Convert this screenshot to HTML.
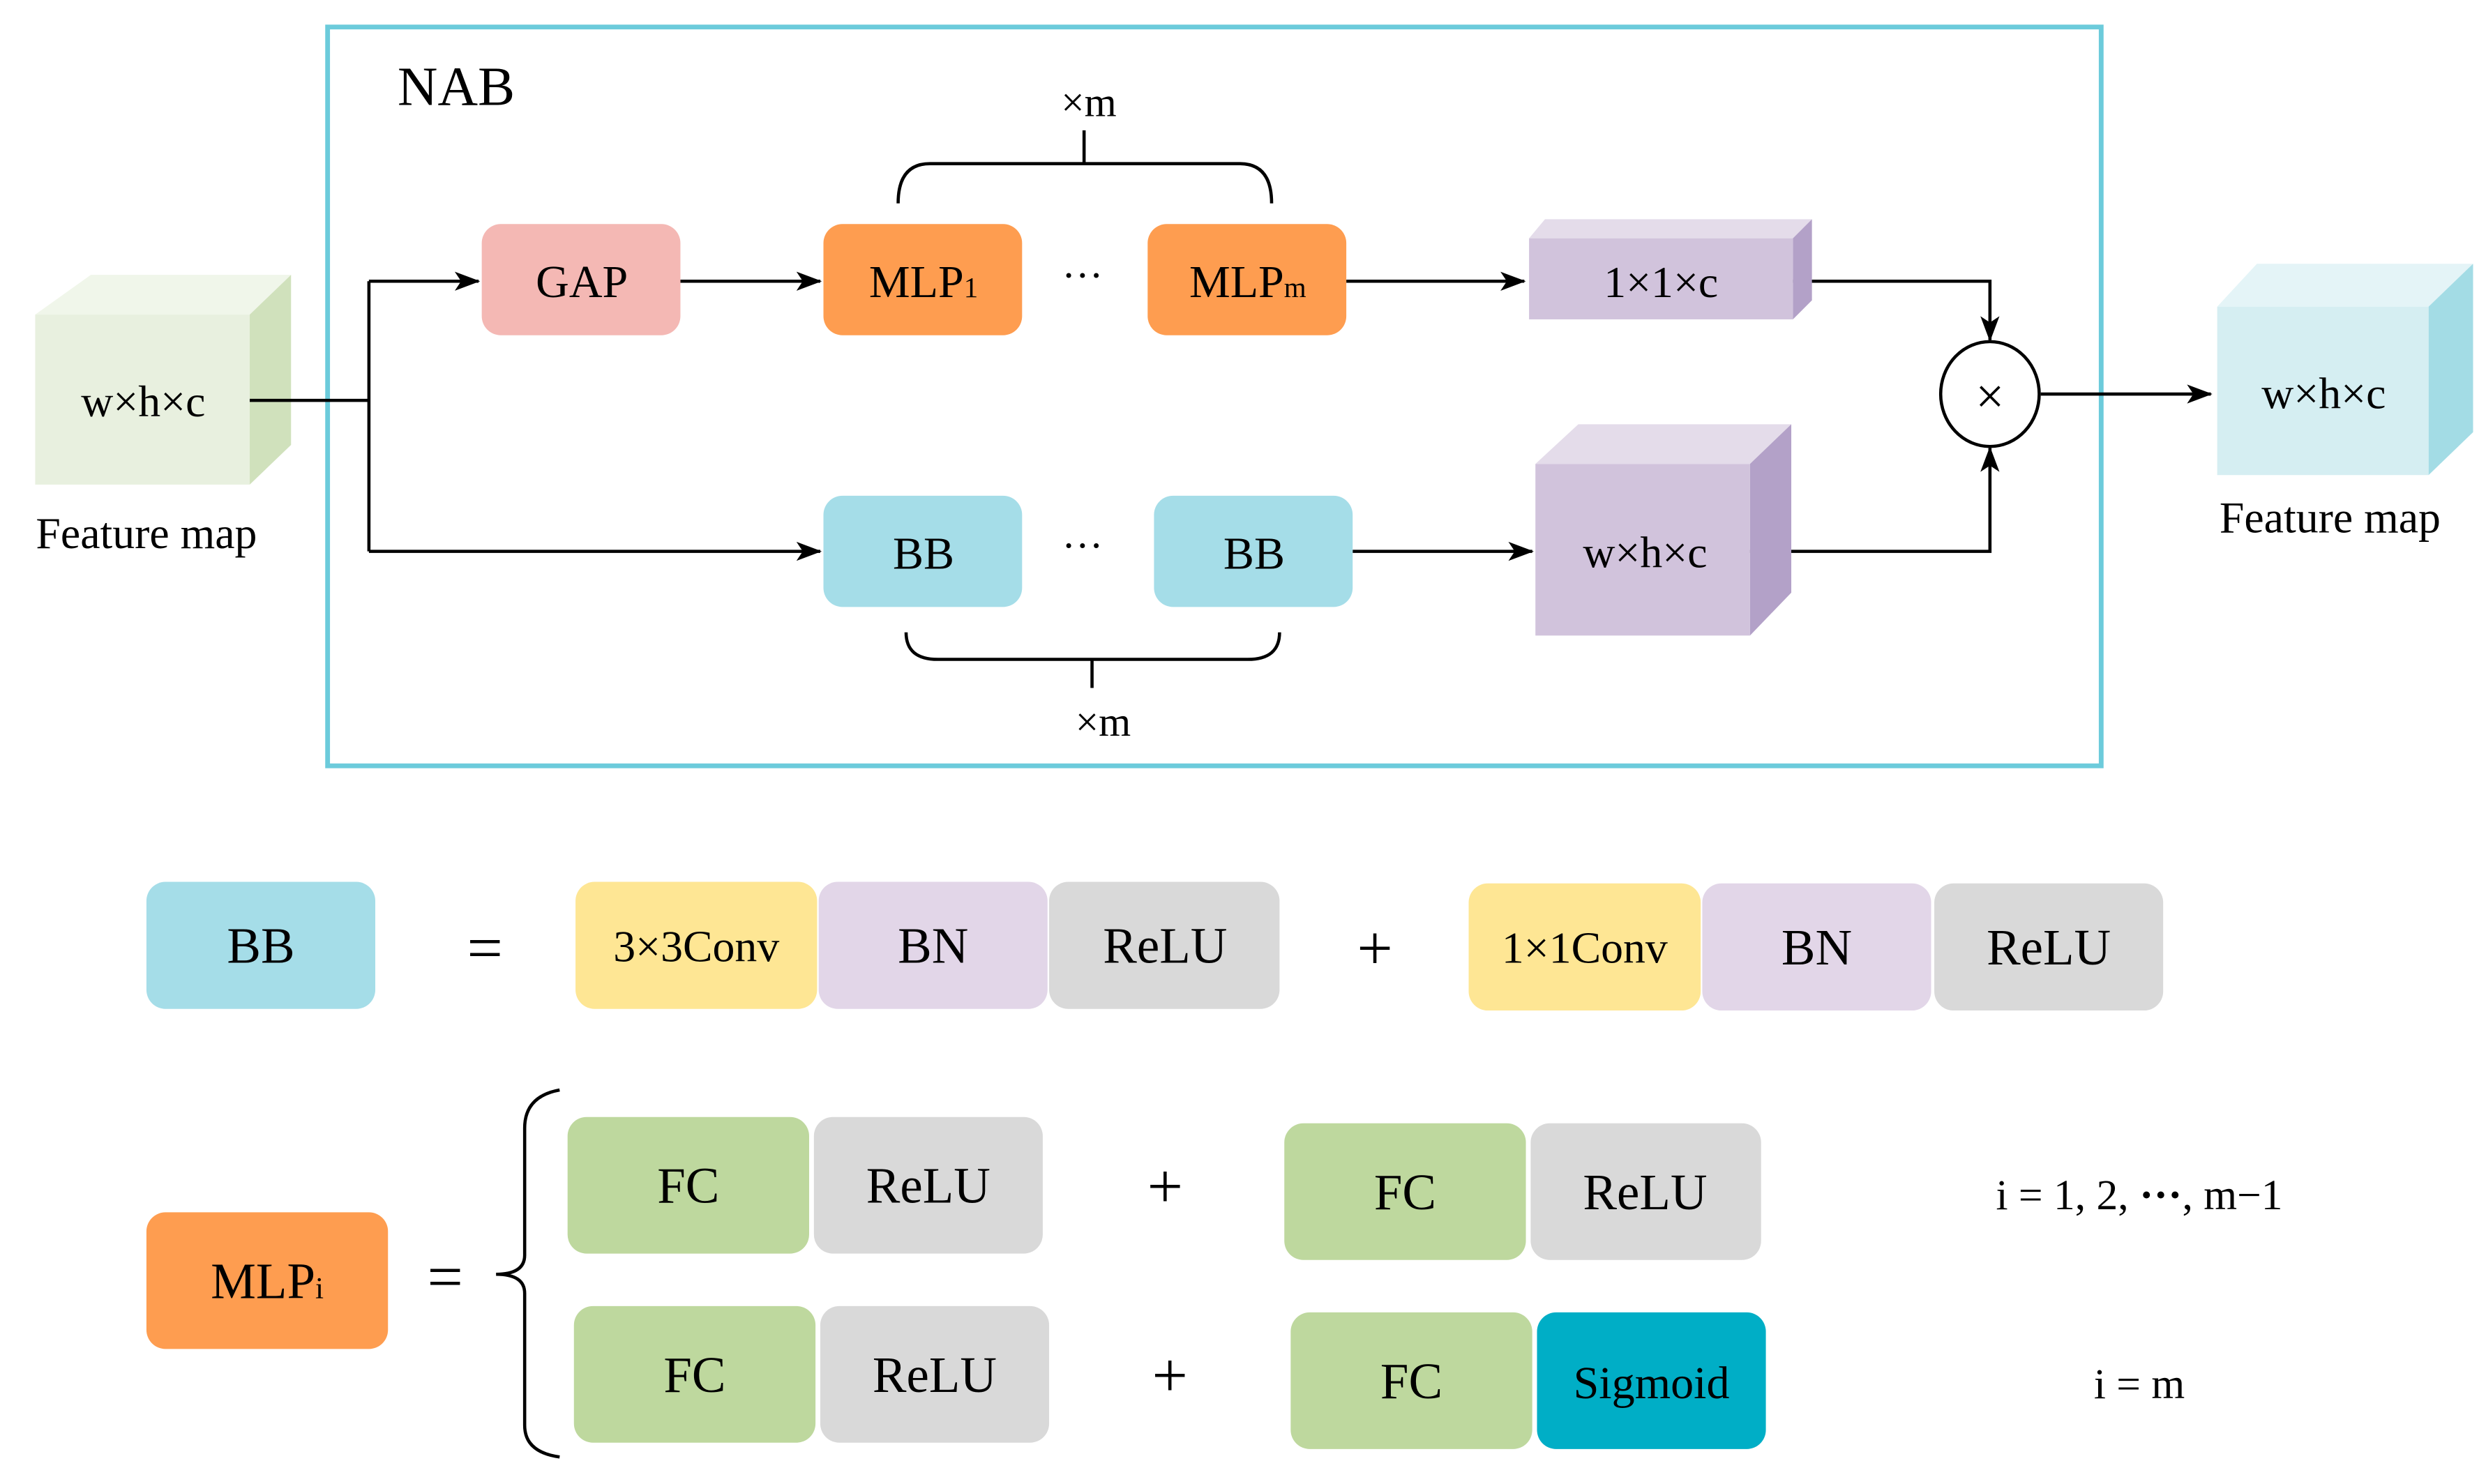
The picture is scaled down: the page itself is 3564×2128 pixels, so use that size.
<!DOCTYPE html>
<html><head><meta charset="utf-8"><style>html,body{margin:0;padding:0;background:#fff}svg{display:block}text{font-family:"Liberation Serif",serif;fill:#000}</style></head>
<body>
<svg width="3564" height="2128" viewBox="0 0 1564 934" xmlns="http://www.w3.org/2000/svg">
<defs>
<marker id="b" viewBox="0 0 16 12" markerWidth="16" markerHeight="12" refX="15" refY="6" orient="auto" markerUnits="userSpaceOnUse"><path d="M0,0 L16,6 L0,12 L4,6 Z" fill="#000"/></marker></defs>
<rect x="206" y="17" width="1116" height="465" fill="none" stroke="#6ccbdb" stroke-width="3"/>
<text x="250" y="66" font-size="35">NAB</text>
<polygon points="22,198 57,173 183,173 157,198" fill="#f0f6ea"/>
<polygon points="157,198 183,173 183,280 157,305" fill="#d0e1bc"/>
<rect x="22" y="198" width="135" height="107" fill="#e8f0df"/>
<text x="90" y="262" font-size="28" text-anchor="middle">w×h×c</text>
<text x="92" y="345" font-size="28" text-anchor="middle">Feature map</text>
<g stroke="#000" stroke-width="2" fill="none">
<path d="M157,252 H232 M232,177 V347"/>
<path d="M232,177 H301" marker-end="url(#b)"/>
<path d="M232,347 H516" marker-end="url(#b)"/>
<path d="M428,177 H516" marker-end="url(#b)"/>
<path d="M847,177 H959" marker-end="url(#b)"/>
<path d="M851,347 H964" marker-end="url(#b)"/>
<path d="M1128,177 H1252 V214" marker-end="url(#b)"/>
<path d="M1101,347 H1252 V282" marker-end="url(#b)"/>
<path d="M1284,248 H1391" marker-end="url(#b)"/>
<path d="M565,128 Q565,103 585,103 H780 Q800,103 800,128 M682,103 V82"/>
<path d="M570,398 Q570,415 590,415 H785 Q805,415 805,398 M687,415 V433"/>
<path d="M352,686 Q330,690 330,710 V790 Q330,802 312,802 Q330,802 330,814 V897 Q330,914 352,917"/>
</g>
<rect x="303" y="141" width="125" height="70" rx="12" fill="#f4b8b4"/><text x="366" y="187" font-size="29" text-anchor="middle">GAP</text>
<rect x="518" y="141" width="125" height="70" rx="12" fill="#fe9d50"/><text x="581" y="187" font-size="29" text-anchor="middle">MLP<tspan font-size="18">1</tspan></text>
<text x="681" y="182" font-size="26" text-anchor="middle">···</text>
<rect x="722" y="141" width="125" height="70" rx="12" fill="#fe9d50"/><text x="785" y="187" font-size="29" text-anchor="middle">MLP<tspan font-size="18">m</tspan></text>
<text x="685" y="73" font-size="26" text-anchor="middle">×m</text>
<text x="694" y="463" font-size="26" text-anchor="middle">×m</text>
<polygon points="962,150 972,138 1140,138 1128,150" fill="#e4dcea"/>
<polygon points="1128,150 1140,138 1140,189 1128,201" fill="#b3a1c8"/>
<rect x="962" y="150" width="166" height="51" fill="#d1c3dc"/>
<text x="1045" y="187" font-size="28" text-anchor="middle">1×1×c</text>
<ellipse cx="1252" cy="248" rx="31" ry="33" fill="#fff" stroke="#000" stroke-width="2"/>
<text x="1252" y="260" font-size="32" text-anchor="middle">×</text>
<polygon points="1395,193 1420,166 1556,166 1528,193" fill="#e4f4f7"/>
<polygon points="1528,193 1556,166 1556,272 1528,299" fill="#a3dce5"/>
<rect x="1395" y="193" width="133" height="106" fill="#d5eef2"/>
<text x="1462" y="257" font-size="28" text-anchor="middle">w×h×c</text>
<text x="1466" y="335" font-size="28" text-anchor="middle">Feature map</text>
<rect x="518" y="312" width="125" height="70" rx="12" fill="#a5dde8"/><text x="581" y="358" font-size="29" text-anchor="middle">BB</text>
<text x="681" y="352" font-size="26" text-anchor="middle">···</text>
<rect x="726" y="312" width="125" height="70" rx="12" fill="#a5dde8"/><text x="789" y="358" font-size="29" text-anchor="middle">BB</text>
<polygon points="966,292 993,267 1127,267 1101,292" fill="#e4dcea"/>
<polygon points="1101,292 1127,267 1127,373 1101,400" fill="#b3a1c8"/>
<rect x="966" y="292" width="135" height="108" fill="#d1c3dc"/>
<text x="1035" y="357" font-size="28" text-anchor="middle">w×h×c</text>
<g font-size="32">
<rect x="92" y="555" width="144" height="80" rx="12" fill="#a5dde8"/><text x="164" y="606" text-anchor="middle">BB</text>
<text x="305" y="610" text-anchor="middle" font-size="40">=</text>
<rect x="362" y="555" width="152" height="80" rx="12" fill="#fee694"/><text x="438" y="605" text-anchor="middle" font-size="28">3×3Conv</text>
<rect x="515" y="555" width="144" height="80" rx="12" fill="#e2d6e8"/><text x="587" y="606" text-anchor="middle">BN</text>
<rect x="660" y="555" width="145" height="80" rx="12" fill="#d9d9d9"/><text x="733" y="606" text-anchor="middle">ReLU</text>
<text x="865" y="610" text-anchor="middle" font-size="40">+</text>
<rect x="924" y="556" width="146" height="80" rx="12" fill="#fee694"/><text x="997" y="606" text-anchor="middle" font-size="28">1×1Conv</text>
<rect x="1071" y="556" width="144" height="80" rx="12" fill="#e2d6e8"/><text x="1143" y="607" text-anchor="middle">BN</text>
<rect x="1217" y="556" width="144" height="80" rx="12" fill="#d9d9d9"/><text x="1289" y="607" text-anchor="middle">ReLU</text>
<rect x="92" y="763" width="152" height="86" rx="12" fill="#fe9d50"/><text x="168" y="817" text-anchor="middle">MLP<tspan font-size="19">i</tspan></text>
<text x="280" y="817" text-anchor="middle" font-size="40">=</text>
<rect x="357" y="703" width="152" height="86" rx="12" fill="#bed89e"/><text x="433" y="757" text-anchor="middle">FC</text>
<rect x="512" y="703" width="144" height="86" rx="12" fill="#d9d9d9"/><text x="584" y="757" text-anchor="middle">ReLU</text>
<text x="733" y="760" text-anchor="middle" font-size="40">+</text>
<rect x="808" y="707" width="152" height="86" rx="12" fill="#bed89e"/><text x="884" y="761" text-anchor="middle">FC</text>
<rect x="963" y="707" width="145" height="86" rx="12" fill="#d9d9d9"/><text x="1035" y="761" text-anchor="middle">ReLU</text>
<text x="1346" y="761" text-anchor="middle" font-size="27">i = 1, 2, <tspan font-weight="bold">···</tspan>, m−1</text>
<rect x="361" y="822" width="152" height="86" rx="12" fill="#bed89e"/><text x="437" y="876" text-anchor="middle">FC</text>
<rect x="516" y="822" width="144" height="86" rx="12" fill="#d9d9d9"/><text x="588" y="876" text-anchor="middle">ReLU</text>
<text x="736" y="879" text-anchor="middle" font-size="40">+</text>
<rect x="812" y="826" width="152" height="86" rx="12" fill="#bed89e"/><text x="888" y="880" text-anchor="middle">FC</text>
<rect x="967" y="826" width="144" height="86" rx="12" fill="#00aec6"/><text x="1039" y="880" text-anchor="middle" font-size="29">Sigmoid</text>
<text x="1346" y="880" text-anchor="middle" font-size="27">i = m</text>
</g>
</svg>
</body></html>
